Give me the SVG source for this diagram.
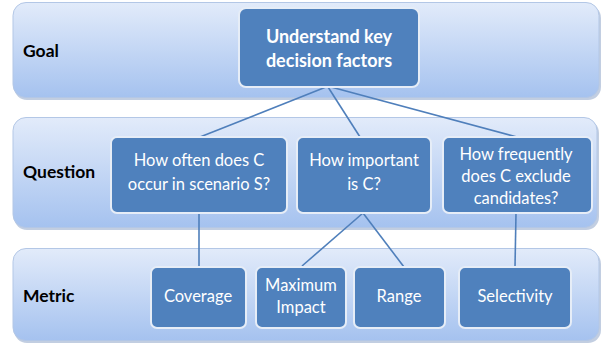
<svg xmlns="http://www.w3.org/2000/svg" width="601" height="343" viewBox="0 0 601 343">
<defs>
<linearGradient id="bandGrad" x1="0" y1="0" x2="0" y2="1">
<stop offset="0" stop-color="#e2ebfa"/>
<stop offset="1" stop-color="#a5c2ef"/>
</linearGradient>
<style>
.shadow{fill:#8fa6c8;opacity:0.55}
.band{fill:url(#bandGrad);stroke:#b3c7e6;stroke-width:1}
.box{fill:#4f81bd;stroke:#e6edf7;stroke-width:2}
.lbl{font-family:Lato,"Open Sans",sans-serif;font-weight:bold;font-size:17.5px;fill:#000}
.bt{font-family:Lato,"Open Sans",sans-serif;font-size:16.5px;fill:#fff;text-anchor:middle}
.gt{font-family:Lato,"Open Sans",sans-serif;font-weight:bold;font-size:18px;fill:#fff;text-anchor:middle}
.conn{stroke:#4f7fbb;stroke-width:1.6;fill:none}
</style>
</defs>
<g id="bands">
<rect class="shadow" x="14" y="5" width="587" height="95" rx="13"/>
<rect class="band" x="13" y="2.5" width="586" height="95" rx="13"/>
<rect class="shadow" x="14" y="120" width="585" height="110" rx="13"/>
<rect class="band" x="13" y="117.5" width="584" height="110" rx="13"/>
<rect class="shadow" x="14" y="251" width="587" height="92" rx="13"/>
<rect class="band" x="13" y="248.5" width="586" height="92" rx="13"/>
<text class="lbl" x="23" y="57">Goal</text>
<text class="lbl" x="23" y="178">Question</text>
<text class="lbl" x="23" y="302">Metric</text>
</g>
<g id="connectors">
<line class="conn" x1="326" y1="87" x2="200" y2="137"/>
<line class="conn" x1="328" y1="87" x2="360" y2="137"/>
<line class="conn" x1="331" y1="87" x2="517" y2="137"/>
<line class="conn" x1="199" y1="213" x2="199" y2="267"/>
<line class="conn" x1="363" y1="213" x2="302" y2="266"/>
<line class="conn" x1="363" y1="213" x2="404" y2="267"/>
<line class="conn" x1="516" y1="213" x2="515" y2="267"/>
</g>
<g id="goal">
<rect class="box" x="239" y="8" width="180" height="79" rx="7"/>
<text class="gt" x="329" y="43">Understand key</text>
<text class="gt" x="329" y="67">decision factors</text>
</g>
<g id="q1">
<rect class="box" x="111" y="137" width="176" height="76" rx="6"/>
<text class="bt" x="199" y="166">How often does C</text>
<text class="bt" x="199" y="190">occur in scenario S?</text>
</g>
<g id="q2">
<rect class="box" x="297" y="137" width="134" height="76" rx="6"/>
<text class="bt" x="364" y="166">How important</text>
<text class="bt" x="364" y="190">is C?</text>
</g>
<g id="q3">
<rect class="box" x="443" y="137" width="149" height="76" rx="6"/>
<text class="bt" x="516" y="160">How frequently</text>
<text class="bt" x="516" y="182">does C exclude</text>
<text class="bt" x="516" y="204">candidates?</text>
</g>
<g id="m1">
<rect class="box" x="151" y="267" width="95" height="61" rx="6"/>
<text class="bt" x="198" y="302">Coverage</text>
</g>
<g id="m2">
<rect class="box" x="256" y="267" width="90" height="61" rx="6"/>
<text class="bt" x="301" y="291">Maximum</text>
<text class="bt" x="301" y="313">Impact</text>
</g>
<g id="m3">
<rect class="box" x="354" y="267" width="91" height="61" rx="6"/>
<text class="bt" x="399" y="302">Range</text>
</g>
<g id="m4">
<rect class="box" x="459" y="267" width="112" height="61" rx="6"/>
<text class="bt" x="515" y="302">Selectivity</text>
</g>
</svg>
